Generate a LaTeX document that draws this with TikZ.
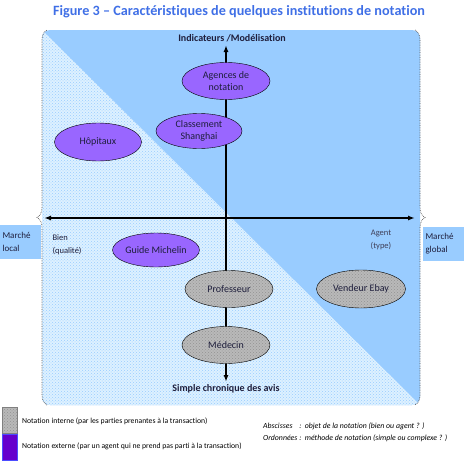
\documentclass[tikz,border=0pt]{standalone}
\usepackage{fontspec}
\setmainfont[Ligatures=NoCommon]{Carlito}
\usetikzlibrary{patterns,shapes.geometric,decorations.pathreplacing,arrows.meta}
\definecolor{ciel}{HTML}{99CCFF}
\definecolor{cielpale}{HTML}{DDF1FF}
\definecolor{mauve}{HTML}{9966FF}
\definecolor{violetfonce}{HTML}{6600CC}
\definecolor{titrebleu}{HTML}{3F6FE6}
\definecolor{encre}{HTML}{1E1E3C}

\begin{document}
\begin{tikzpicture}[x=1pt,y=-1pt,
    bulle/.style={draw=black,ellipse,inner sep=0pt,minimum width=88pt,minimum height=37pt,align=center,font=\fontsize{10}{12}\selectfont,text=encre},
    externe/.style={bulle,fill=mauve},
    interne/.style={bulle,preaction={fill=gray!55},pattern=crosshatch dots,pattern color=gray!85},
    axe/.style={line width=1.6pt,{Latex[length=7pt,width=5pt]}-{Latex[length=7pt,width=5pt]}},
    marche/.style={fill=ciel,text width=35pt,inner sep=3pt,minimum height=34pt,align=left,font=\fontsize{9}{13}\selectfont,text=encre},
    legende/.style={anchor=west,font=\fontsize{7.7}{9}\selectfont,inner sep=0pt}]
    \useasboundingbox (0,0) rectangle (463,471);
    \fill[ciel,rounded corners=8pt] (42,30) rectangle (420,405);
    \begin{scope}
    \clip[rounded corners=8pt] (42,30) rectangle (420,405);
    \fill[cielpale] (42,30)--(420,405)--(42,405)--cycle;
    \fill[pattern=crosshatch dots,pattern color=ciel] (42,30)--(420,405)--(42,405)--cycle;
    \end{scope}
    \draw[gray!70!black,densely dotted,line width=0.7pt,decorate,decoration={brace,amplitude=10pt}] (47,405)--(47,30);
    \draw[gray!70!black,densely dotted,line width=0.7pt,decorate,decoration={brace,amplitude=10pt}] (415,30)--(415,405);
    \node[font=\bfseries\fontsize{14.2}{16}\selectfont,text=titrebleu](titre)at (239,12){Figure 3 -- Caractéristiques de quelques institutions de notation};
    \node[font=\bfseries\fontsize{10}{12}\selectfont,text=encre](haut)at (232,38){Indicateurs /Modélisation};
    \node[font=\bfseries\fontsize{10}{12}\selectfont,text=encre](bas)at (226,389){Simple chronique des avis};
    \node[marche](local)at (20,242){Marché\\local};
    \node[marche](global)at (443,244){Marché\\global};
    \node[anchor=west,align=left,font=\fontsize{8.5}{13}\selectfont,text=encre](bien)at (49,245){Bien\\(qualité)};
    \node[align=center,font=\fontsize{8.5}{13}\selectfont,text=encre!85](agent)at (381,240){Agent\\(type)};
    \coordinate (ouest) at (44,218);
    \coordinate (est) at (415,218);
    \coordinate (nord) at (226,45);
    \coordinate (sud) at (226,382);
    \draw[axe](ouest)--(est);
    \draw[axe](sud)--(nord);
    \node[externe](agences)at (226,81){Agences de\\notation};
    \node[externe,minimum width=86pt,minimum height=35pt](shanghai)at (199,131){Classement\\Shanghai};
    \node[externe,minimum width=87pt,minimum height=38pt](hopitaux)at (98,142){Hôpitaux};
    \node[externe,minimum width=86pt,minimum height=34pt](michelin)at (156,250){Guide Michelin};
    \node[interne](professeur)at (229,289){Professeur};
    \node[interne](medecin)at (226,345){Médecin};
    \node[interne,minimum width=89pt,minimum height=38pt](ebay)at (361,289){Vendeur Ebay};
    \draw[draw=gray,preaction={fill=gray!55},pattern=crosshatch dots,pattern color=gray!85](2,407)rectangle(17,433);
    \draw[draw=blue!70,fill=violetfonce](2,434)rectangle(17,460);
    \node[legende](interne)at (22,421){Notation interne (par les parties prenantes à la transaction)};
    \node[legende](externe)at (22,446){Notation externe (par un agent qui ne prend pas parti à la transaction)};
    \node[legende,font=\itshape\fontsize{7.8}{9}\selectfont](axes)at (263,433){\begin{tabular}{@{}l@{\ :\ \ }l@{}}Abscisses\ \ \ &objet de la notation (bien ou agent ? )\\[3pt]Ordonnées&méthode de notation (simple ou complexe ? )\end{tabular}};
\end{tikzpicture}
\end{document}
